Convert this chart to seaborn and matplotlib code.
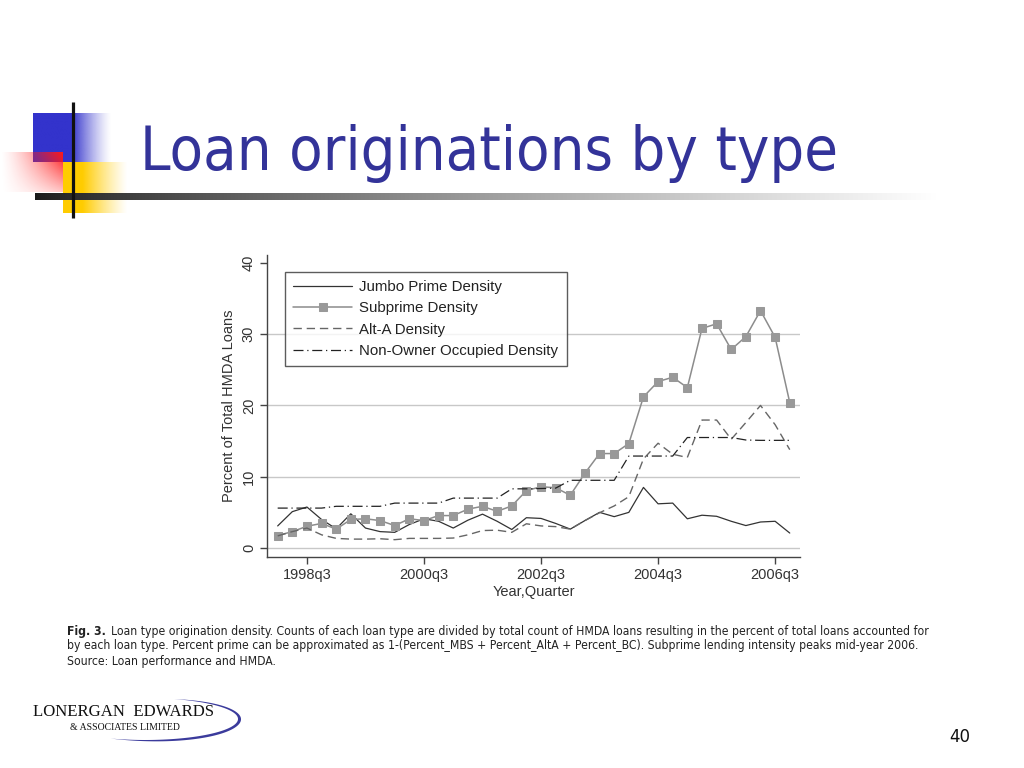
import numpy as np
import pandas as pd
import matplotlib
matplotlib.use("Agg")
import matplotlib.pyplot as plt
import seaborn as sns

# quarterly shares (percent of total HMDA loans), 1998q1 .. 2006q4
quarters = [f"{y}q{q}" for y in range(1998, 2007) for q in range(1, 5)]
jumbo = [3.1, 5.1, 5.75, 4.0, 2.7, 4.8, 2.8, 2.3, 2.2, 3.3, 4.1, 3.75,
         2.8, 3.9, 4.75, 3.75, 2.6, 4.25, 4.15, 3.45, 2.65, 3.85, 5.0, 4.4,
         5.0, 8.5, 6.2, 6.3, 4.1, 4.6, 4.45, 3.75, 3.15, 3.65, 3.75, 2.1]
subprime = [1.75, 2.3, 3.05, 3.45, 2.65, 4.0, 4.1, 3.85, 3.15, 4.1, 3.85, 4.55,
            4.55, 5.45, 5.85, 5.15, 5.9, 8.05, 8.6, 8.45, 7.4, 10.5, 13.25, 13.25,
            14.65, 21.2, 23.35, 23.95, 22.5, 30.8, 31.45, 27.85, 29.65, 33.3, 29.55, 20.4]
alt_a = [1.7, 2.3, 2.8, 1.85, 1.35, 1.25, 1.25, 1.3, 1.17, 1.35, 1.35, 1.35,
         1.4, 1.85, 2.45, 2.5, 2.2, 3.4, 3.1, 3.0, 2.65, 3.85, 4.95, 5.9,
         7.2, 12.5, 14.7, 13.15, 12.7, 17.95, 17.95, 15.25, 17.6, 20.0, 17.3, 13.8]
non_owner = [5.6, 5.6, 5.6, 5.6, 5.85, 5.85, 5.85, 5.85, 6.3, 6.3, 6.3, 6.3,
             7.0, 7.0, 7.0, 7.0, 8.3, 8.3, 8.35, 8.4, 9.5, 9.5, 9.5, 9.5,
             12.9, 12.9, 12.9, 12.9, 15.5, 15.5, 15.5, 15.5, 15.15, 15.1, 15.1, 15.1]
tick_labels = ["1998q3", "2000q3", "2002q3", "2004q3", "2006q3"]
y_ticks = [0, 10, 20, 30, 40]

df = pd.DataFrame({"t": np.arange(len(quarters)), "quarter": quarters,
                   "Jumbo Prime Density": jumbo, "Subprime Density": subprime,
                   "Alt-A Density": alt_a, "Non-Owner Occupied Density": non_owner})

sns.set_style("white")
plt.rcParams["font.family"] = ["Liberation Sans", "DejaVu Sans"]

W, H = 1024, 768
fig = plt.figure(figsize=(W / 100, H / 100), dpi=100)

# ---- slide decoration (pixel coordinates) ----
bg = fig.add_axes([0, 0, 1, 1], zorder=0)
bg.set_xlim(0, W)
bg.set_ylim(H, 0)
bg.axis("off")

def grad_rect(x0, x1, y0, y1, rgb, alpha):
    img = np.zeros(alpha.shape + (4,))
    img[..., :3] = rgb
    img[..., 3] = alpha
    bg.imshow(img, extent=(x0, x1, y1, y0), aspect="auto", interpolation="bilinear")

# blue square
xs = np.linspace(0, 1, 80)
a = np.where(xs < 0.49, 1.0, np.clip(1 - (xs - 0.49) / 0.51, 0, 1) ** 1.3)
grad_rect(33, 112, 113, 162, (0.2, 0.2, 0.8), np.tile(a, (10, 1)))
# yellow square
xs = np.linspace(0, 1, 80)
a = np.where(xs < 0.3, 1.0, np.clip(1 - (xs - 0.3) / 0.7, 0, 1) ** 1.2)
grad_rect(63, 128, 162, 213, (1.0, 0.8, 0.0), np.tile(a, (10, 1)))
# red square fading left / down
gx, gy = np.meshgrid(np.linspace(0, 1, 60), np.linspace(0, 1, 40))
a = np.clip(gx, 0, 1) ** 1.4 * (1 - 0.75 * gy)
grad_rect(0, 63, 152, 192, (1.0, 0.1, 0.1), a)
# vertical black line
bg.plot([73, 73], [102, 218], color="#111111", lw=2.3, solid_capstyle="butt")
# horizontal bar black -> white
xs = np.linspace(0, 1, 400)
v = np.clip(0.1 + 0.95 * xs ** 0.8, 0, 1)
bar = np.zeros((2, 400, 4))
bar[..., 0] = v
bar[..., 1] = v
bar[..., 2] = v
bar[..., 3] = 1.0
bg.imshow(bar, extent=(35, 1000, 200.5, 193.5), aspect="auto", interpolation="bilinear")

bg.text(140, 170, "Loan originations by type", color="#333399", fontsize=44,
        family=["DejaVu Sans"], stretch="condensed", va="baseline", ha="left")

# caption
cap_y = [631, 646, 661]
cap_lines = [
    "Loan type origination density. Counts of each loan type are divided by total count of HMDA loans resulting in the percent of total loans accounted for",
    "by each loan type. Percent prime can be approximated as 1-(Percent_MBS + Percent_AltA + Percent_BC). Subprime lending intensity peaks mid-year 2006.",
    "Source: Loan performance and HMDA.",
]
cap_font = ["DejaVu Sans"]
cap_size = 8.75
t0 = bg.text(67, cap_y[0], "Fig. 3.", fontsize=cap_size, weight="bold", family=cap_font,
             stretch="condensed", va="center", ha="left", color="#222222")
fig.canvas.draw()
w0 = t0.get_window_extent().width
bg.text(67 + w0 + 5, cap_y[0], cap_lines[0], fontsize=cap_size, family=cap_font,
        stretch="condensed", va="center", ha="left", color="#222222")
for yy, line in zip(cap_y[1:], cap_lines[1:]):
    bg.text(67, yy, line, fontsize=cap_size, family=cap_font, stretch="condensed",
            va="center", ha="left", color="#222222")

# logo
bg.text(33, 712, "LONERGAN  EDWARDS", fontsize=12.1, family=["Liberation Serif"],
        va="center", ha="left", color="#111111")
bg.text(70, 727, "& ASSOCIATES LIMITED", fontsize=7, family=["Liberation Serif"],
        va="center", ha="left", color="#111111")
tt = np.linspace(-1.95, 1.25, 120)
wth = 3.2 * np.sin(np.pi * (tt - tt[0]) / (tt[-1] - tt[0]))
cx, cy, ea, eb = 145, 719, 93, 21
outer = np.c_[cx + (ea + wth) * np.cos(tt), cy - (eb + wth) * np.sin(tt)]
inner = np.c_[cx + ea * np.cos(tt), cy - eb * np.sin(tt)][::-1]
bg.fill(np.r_[outer[:, 0], inner[:, 0]], np.r_[outer[:, 1], inner[:, 1]],
        color="#3b3b9c", lw=0)

bg.text(960, 737, "40", fontsize=12, family=["DejaVu Sans"], va="center",
        ha="center", color="#111111")

# ---- chart ----
ax = fig.add_axes([267 / W, 1 - 557 / H, (800 - 267) / W, (557 - 255) / H], zorder=1)
ax.patch.set_alpha(0)

series = [
    ("Jumbo Prime Density", dict(color="#333333", lw=0.9, linestyle="-")),
    ("Subprime Density", dict(color="#8c8c8c", lw=1.1, linestyle="-", marker="s",
                              markersize=6.3, markerfacecolor="#999999",
                              markeredgecolor="#999999")),
    ("Alt-A Density", dict(color="#666666", lw=1.0, linestyle=(0, (6, 3.5)))),
    ("Non-Owner Occupied Density", dict(color="#222222", lw=0.9,
                                        linestyle=(0, (8, 3, 1, 3)))),
]
for name, kw in series:
    sns.lineplot(data=df, x="t", y=name, ax=ax, label=name, errorbar=None, **kw)

for yv in y_ticks[:-1]:
    ax.axhline(yv, color="#c8c8c8", lw=1.0, zorder=0)

ax.set_xlim(-0.73, 35.7)
ax.set_ylim(-1.26, 41.1)
ax.set_xticks([quarters.index(q) for q in tick_labels])
ax.set_xticklabels(tick_labels)
ax.set_yticks(y_ticks)
ax.set_yticklabels([str(v) for v in y_ticks], rotation=90, va="center")
ax.tick_params(axis="both", direction="out", length=5, width=1, color="#444444",
               labelsize=10.5, labelcolor="#333333", pad=3)
ax.tick_params(axis="both", which="both", bottom=True, left=True)
for s in ["top", "right"]:
    ax.spines[s].set_visible(False)
for s in ["left", "bottom"]:
    ax.spines[s].set_color("#444444")
    ax.spines[s].set_linewidth(1.0)
ax.set_xlabel("Year,Quarter", fontsize=10.5, color="#333333", labelpad=2)
ax.set_ylabel("Percent of Total HMDA Loans", fontsize=10.5, color="#333333", labelpad=4)

leg = ax.legend(loc="upper left", bbox_to_anchor=(285 / W, 1 - 272 / H),
                bbox_transform=fig.transFigure, borderaxespad=0, fontsize=10.8,
                frameon=True, fancybox=False, handlelength=3.9, handletextpad=0.5,
                labelspacing=0.48, borderpad=0.55, markerscale=0.9)
leg.get_frame().set_edgecolor("#333333")
leg.get_frame().set_linewidth(1.0)
for txt in leg.get_texts():
    txt.set_color("#222222")

fig.savefig("out.png", dpi=100)
